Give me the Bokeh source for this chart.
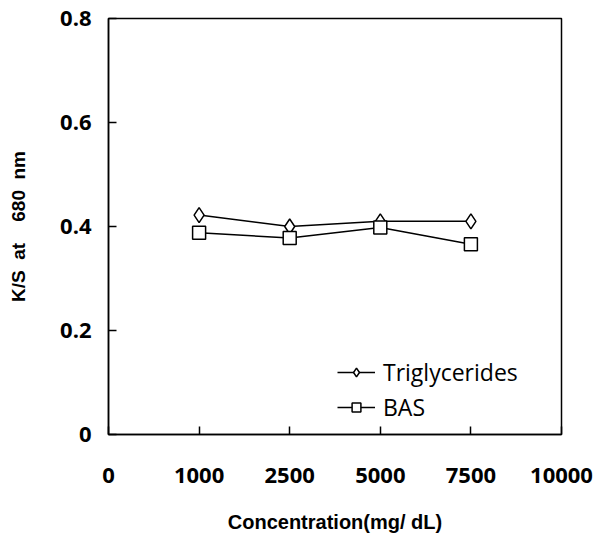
from bokeh.plotting import figure
from bokeh.models import FixedTicker, Legend, LegendItem, ColumnDataSource
from bokeh.embed import file_html
from bokeh.resources import INLINE

# categorical-like x axis (equally spaced)
x_labels = ["0", "1000", "2500", "5000", "7500", "10000"]
concentration = ["1000", "2500", "5000", "7500"]
triglycerides = [0.422, 0.400, 0.410, 0.410]
bas = [0.388, 0.378, 0.398, 0.366]
y_ticks = [0, 0.2, 0.4, 0.6, 0.8]
y_tick_labels = ["0", "0.2", "0.4", "0.6", "0.8"]
x_title = "Concentration(mg/ dL)"

xpos = [x_labels.index(c) for c in concentration]

NB = "\u00a0"

p = figure(width=598, height=535, output_backend="svg", toolbar_location=None,
           x_range=(0, len(x_labels) - 1), y_range=(0, 0.8),
           min_border_left=108, min_border_right=37, min_border_top=18, min_border_bottom=101)
p.grid.visible = False
p.outline_line_color = "black"
p.outline_line_width = 1.5
p.background_fill_color = "white"
p.border_fill_color = "white"

p.xaxis.ticker = FixedTicker(ticks=list(range(len(x_labels))))
p.xaxis.major_label_overrides = {i: l for i, l in enumerate(x_labels)}
p.yaxis.ticker = FixedTicker(ticks=y_ticks)
p.yaxis.major_label_overrides = {t: l for t, l in zip(y_ticks, y_tick_labels)}

for ax in (p.xaxis[0], p.yaxis[0]):
    ax.axis_line_color = "black"
    ax.axis_line_width = 1.5
    ax.major_tick_in = 8
    ax.major_tick_out = 0
    ax.major_tick_line_width = 1.5
    ax.minor_tick_line_color = None
    ax.major_label_text_font = "Open Sans"
    ax.major_label_text_font_style = "bold"
    ax.major_label_text_font_size = "22px"
    ax.major_label_text_color = "black"
    ax.axis_label_text_font = "Liberation Sans"
    ax.axis_label_text_font_style = "bold"
    ax.axis_label_text_color = "black"

p.xaxis.axis_label_text_font_size = "20px"
p.yaxis.axis_label_text_font_size = "19px"
p.xaxis.major_label_standoff = 33
p.yaxis.major_label_standoff = 17
p.xaxis.axis_label = x_title
p.yaxis.axis_label = "K/S" + NB * 2 + "at" + NB * 4 + "680" + NB * 2 + "nm"
p.xaxis.axis_label_standoff = 25
p.yaxis.axis_label_standoff = 28

src = ColumnDataSource(dict(x=xpos, tg=triglycerides, bas=bas))
l1 = p.line("x", "tg", source=src, line_color="black", line_width=1.5)
m1 = p.scatter("x", "tg", source=src, marker="diamond", size=15, fill_color="white",
               line_color="black", line_width=1.5)
l2 = p.line("x", "bas", source=src, line_color="black", line_width=1.5)
m2 = p.scatter("x", "bas", source=src, marker="square", size=13, fill_color="white",
               line_color="black", line_width=1.5)

legend = Legend(items=[LegendItem(label="Triglycerides", renderers=[l1, m1]),
                       LegendItem(label="BAS", renderers=[l2, m2])],
                location=(229, 11), border_line_color=None, background_fill_alpha=0,
                padding=0, margin=0, spacing=3, glyph_width=38, glyph_height=22,
                label_height=22, label_standoff=8,
                label_text_font="Open Sans", label_text_font_size="23px",
                label_text_color="black")
p.add_layout(legend)

open("out.html", "w").write(file_html(p, INLINE))
